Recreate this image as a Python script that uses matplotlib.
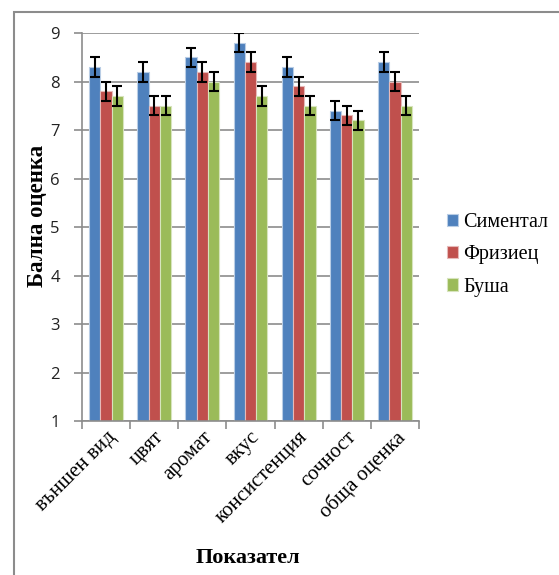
import numpy as np
import matplotlib
matplotlib.use("Agg")
import matplotlib.pyplot as plt
from matplotlib.patches import Rectangle

categories = ["външен вид", "цвят", "аромат", "вкус", "консистенция", "сочност", "обща оценка"]
series_names = ["Симентал", "Фризиец", "Буша"]
simental = [8.3, 8.2, 8.5, 8.8, 8.3, 7.4, 8.4]
friziec = [7.8, 7.5, 8.2, 8.4, 7.9, 7.3, 8.0]
busha = [7.7, 7.5, 8.0, 7.7, 7.5, 7.2, 7.5]
err_sim = [0.2, 0.2, 0.2, 0.2, 0.2, 0.2, 0.2]
err_fr = [0.2, 0.2, 0.2, 0.2, 0.2, 0.2, 0.2]
err_bu = [0.2, 0.2, 0.2, 0.2, 0.2, 0.2, 0.2]

colors = ["#4F81BD", "#C0504D", "#9BBB59"]
edges = ["#B9CDE5", "#E6B9B8", "#D7E4BD"]

fig = plt.figure(figsize=(5.59, 5.75), dpi=100)
ax = fig.add_axes([0.1467, 0.2678, 0.6029, 0.6748])

x = np.arange(len(categories))
w = 0.235
for i, (vals, errs) in enumerate(zip([simental, friziec, busha], [err_sim, err_fr, err_bu])):
    ax.bar(x + (i - 1) * w, np.array(vals) - 1, w, bottom=1, color=colors[i],
           edgecolor=edges[i], linewidth=0.8, label=series_names[i], zorder=2)
    ax.errorbar(x + (i - 1) * w, vals, yerr=errs, fmt="none", ecolor="black",
                elinewidth=1.5, capsize=3.5, capthick=1.5, zorder=3)

ax.set_xlim(-0.5, len(categories) - 0.5)
ax.set_ylim(1, 9)
ax.set_yticks(range(1, 10))
ax.yaxis.grid(True, color="#8C8C8C", linewidth=1.2, zorder=0)
ax.set_axisbelow(True)
for s in ["top", "right"]:
    ax.spines[s].set_visible(False)
ax.spines["left"].set_color("#8C8C8C")
ax.spines["bottom"].set_color("#8C8C8C")
ax.spines["left"].set_linewidth(1.2)
ax.spines["bottom"].set_linewidth(1.2)

ax.set_xticks(np.arange(len(categories) + 1) - 0.5, minor=False)
ax.set_xticklabels([])
ax.tick_params(axis="x", length=6, color="#8C8C8C", width=1.2)
ax.set_xticks(x, minor=True)
ax.set_xticklabels(categories, minor=True, rotation=45, ha="right", va="top",
                   rotation_mode="anchor", family="Liberation Serif", fontsize=15)
ax.tick_params(axis="x", which="minor", length=0, pad=5)
ax.tick_params(axis="y", length=6, color="#8C8C8C", width=1.2, labelsize=12, pad=10)
for t in ax.get_yticklabels():
    t.set_family("Open Sans")
    t.set_color("#222222")

fig.text(0.067, 0.625, "Бална оценка", family="Liberation Serif", fontweight="bold",
         fontsize=16.5, rotation=90, ha="center", va="center")
fig.text(0.444, 0.03, "Показател", family="Liberation Serif", fontweight="bold",
         fontsize=16, ha="center", va="center")

leg = ax.legend(loc="center left", bbox_to_anchor=(447 / 559, 1 - 255 / 575),
                bbox_transform=fig.transFigure, frameon=False,
                prop={"family": "Liberation Serif", "size": 14.5},
                handlelength=0.55, handleheight=0.55, handletextpad=0.25, labelspacing=0.65,
                borderaxespad=0, borderpad=0)

fig.patches.append(Rectangle((14 / 559, -0.1), 1.2, 1.1 - 12 / 575, fill=False,
                             edgecolor="#8C8C8C", linewidth=1.5, transform=fig.transFigure))

fig.savefig("out.png", dpi=100)
